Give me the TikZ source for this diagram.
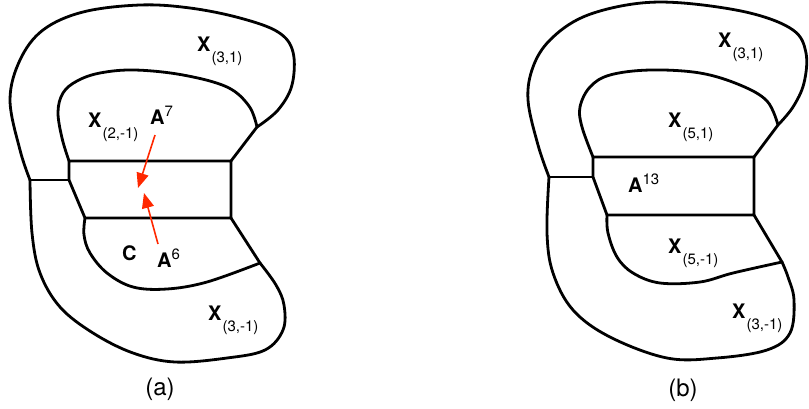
\documentclass[tikz,border=0pt]{standalone}
\usepackage{fontspec}
\setmainfont{TeX Gyre Heros}
\usetikzlibrary{arrows.meta}
\definecolor{arrred}{RGB}{255,40,0}
\newcommand{\xsub}[2]{\textbf{#1}\kern1pt\raisebox{-11pt}{\fontsize{15}{15}\selectfont #2}}
\newcommand{\xsup}[2]{\textbf{#1}\raisebox{8pt}{\fontsize{15}{15}\selectfont #2}}
\begin{document}
\begin{tikzpicture}[x=1pt,y=-1pt,
  edge/.style={line width=2.8pt, line join=round, line cap=round},
  curve/.style={edge, smooth, tension=0.6},
  lab/.style={anchor=base west, inner sep=0pt, font=\fontsize{20}{20}\selectfont},
  caption/.style={anchor=base, inner sep=0pt, font=\fontsize{24}{24}\selectfont},
  redarr/.style={arrred, line width=1.6pt, -{Triangle[length=15pt,width=12pt]}}]
\useasboundingbox (0,0) rectangle (809,408);

% ---------- panel (a) ----------
\coordinate (aL) at (30,180);
\coordinate (aTL) at (69,161);
\coordinate (aTR) at (231,161);
\coordinate (aBR) at (231,218);
\coordinate (aBL) at (85,218);
\coordinate (aML) at (69,180);
\coordinate (aJT) at (257,127);
\coordinate (aJB) at (260,263);

\draw[curve] plot coordinates {(30,180) (20,150) (10,100) (20,60) (43,30) (83,12) (140,5) (190,8) (240,18) (278,32) (293,52) (292,85) (278,110) (257,127)};
\draw[curve] plot coordinates {(69,161) (62,138) (58,112) (63,93) (77,81) (100,73) (135,70) (183,75) (227,87) (249,106) (257,127)};
\draw[edge] (aTR) -- (aJT);
\draw[edge] (aTL) -- (aTR) -- (aBR) -- (aBL) -- (aML) -- cycle;
\draw[edge] (aL) -- (aML);
\draw[curve] plot coordinates {(30,180) (32,233) (40,273) (60,307) (93,333) (133,353) (175,362) (227,358) (265,350) (283,330) (284,305) (276,285) (260,263)};
\draw[edge] (aBR) -- (aJB);
\draw[curve] plot coordinates {(85,218) (84,235) (90,253) (107,273) (133,287) (167,289) (207,282) (260,263)};

\node[lab] (a31) at (197,51) {\xsub{X}{(3,1)}};
\node[lab] (a21) at (88,127) {\xsub{X}{(2,-1)}};
\node[lab] (a7) at (150,124) {\xsup{A}{7}};
\node[lab] (aC) at (122,260) {\textbf{C}};
\node[lab] (a6) at (157,267) {\xsup{A}{6}};
\node[lab] (a3m) at (208,320) {\xsub{X}{(3,-1)}};
\node[caption] (capa) at (160,395) {(a)};

\coordinate (r1s) at (155,135);
\coordinate (r1e) at (138,188);
\coordinate (r2s) at (158,244);
\coordinate (r2e) at (144,193);
\draw[redarr] (r1s) -- (r1e);
\draw[redarr] (r2s) -- (r2e);

% ---------- panel (b) ----------
\coordinate (bL) at (549,177);
\coordinate (bTL) at (593,157);
\coordinate (bTR) at (754,157);
\coordinate (bBR) at (754,215);
\coordinate (bBL) at (607,215);
\coordinate (bML) at (593,177);
\coordinate (bJT) at (778,125);
\coordinate (bJB) at (782,262);

\draw[curve] plot coordinates {(549,177) (538,145) (528,100) (533,67) (550,40) (583,17) (633,4) (683,3) (750,13) (793,30) (806,53) (804,83) (793,107) (778,125)};
\draw[curve] plot coordinates {(593,157) (582,127) (580,107) (590,87) (610,75) (650,70) (700,73) (740,85) (767,101) (778,125)};
\draw[edge] (bTR) -- (bJT);
\draw[edge] (bTL) -- (bTR) -- (bBR) -- (bBL) -- (bML) -- cycle;
\draw[edge] (bL) -- (bML);
\draw[curve] plot coordinates {(549,177) (547,233) (553,273) (573,310) (610,337) (667,358) (717,358) (767,350) (790,333) (794,300) (788,277) (782,262)};
\draw[edge] (bBR) -- (bJB);
\draw[curve] plot coordinates {(607,215) (608,233) (617,257) (633,273) (660,283) (700,282) (733,273) (782,262)};

\node[lab] (b31) at (718,47) {\xsub{X}{(3,1)}};
\node[lab] (b51) at (668,127) {\xsub{X}{(5,1)}};
\node[lab] (b13) at (628,192) {\xsup{A}{13}};
\node[lab] (b5m) at (668,253) {\xsub{X}{(5,-1)}};
\node[lab] (b3m) at (732,318) {\xsub{X}{(3,-1)}};
\node[caption] (capb) at (683,396) {(b)};
\end{tikzpicture}
\end{document}
